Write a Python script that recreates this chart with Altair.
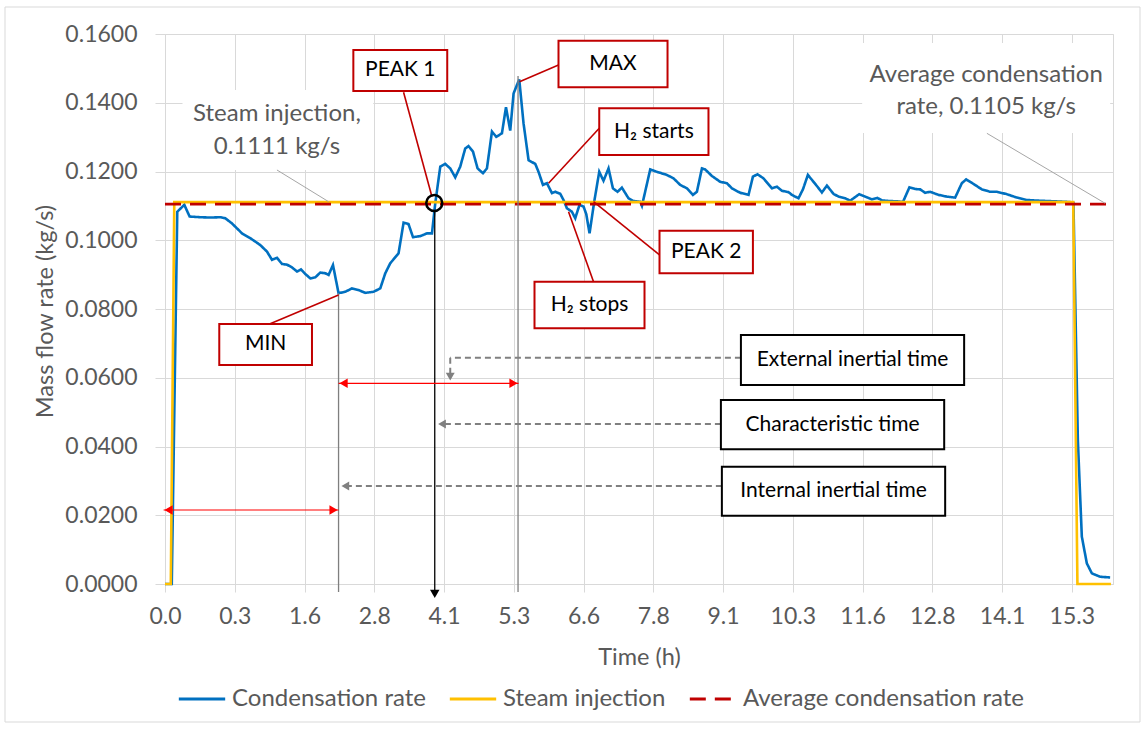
import altair as alt
import pandas as pd

FONT = "Lato"
GREY_TXT = "#595959"
GRID = "#D9D9D9"

# x positions are in category-axis units (one unit per labelled gridline)
x_labels = ["0.0", "0.3", "1.6", "2.8", "4.1", "5.3", "6.6", "7.8", "9.1",
            "10.3", "11.6", "12.8", "14.1", "15.3"]
y_ticks = [0.0, 0.02, 0.04, 0.06, 0.08, 0.10, 0.12, 0.14, 0.16]

cond_x = [0.0, 0.097, 0.176, 0.277, 0.353, 0.506, 0.649, 0.793, 0.864, 0.960,
          1.104, 1.223, 1.366, 1.462, 1.534, 1.605, 1.677, 1.749, 1.820, 1.892,
          1.949, 2.011, 2.083, 2.154, 2.226, 2.298, 2.345, 2.408, 2.488, 2.584,
          2.680, 2.775, 2.871, 2.990, 3.086, 3.158, 3.229, 3.348, 3.420, 3.491,
          3.555, 3.659, 3.755, 3.827, 3.874, 3.946, 4.017, 4.089, 4.161, 4.232,
          4.304, 4.351, 4.415, 4.481, 4.558, 4.615, 4.687, 4.749, 4.830, 4.888,
          4.949, 4.997, 5.078, 5.140, 5.212, 5.308, 5.355, 5.418, 5.475, 5.547,
          5.594, 5.666, 5.713, 5.762, 5.833, 5.881, 5.942, 6.000, 6.039, 6.086,
          6.153, 6.225, 6.286, 6.358, 6.421, 6.487, 6.550, 6.645, 6.716, 6.812,
          6.837, 6.956, 7.052, 7.195, 7.290, 7.386, 7.482, 7.568, 7.625, 7.697,
          7.744, 7.840, 7.959, 8.055, 8.127, 8.246, 8.365, 8.428, 8.494, 8.580,
          8.700, 8.772, 8.843, 8.938, 8.987, 9.081, 9.145, 9.216, 9.321, 9.417,
          9.489, 9.583, 9.655, 9.751, 9.823, 9.951, 10.037, 10.133, 10.214, 10.277,
          10.396, 10.501, 10.578, 10.672, 10.754, 10.826, 10.897, 10.969, 11.088, 11.208,
          11.327, 11.423, 11.485, 11.589, 11.710, 11.829, 11.925, 12.068, 12.212, 12.355,
          12.546, 12.785, 12.976, 13.023, 13.086, 13.143, 13.215, 13.287, 13.406, 13.549]
cond_y = [0.0, 0.0, 0.1083, 0.1103, 0.1069, 0.1067, 0.1066, 0.1067, 0.1064, 0.1049,
          0.1020, 0.1006, 0.0986, 0.0967, 0.0943, 0.0949, 0.0931, 0.0929, 0.0921, 0.0909,
          0.0915, 0.0902, 0.0889, 0.0892, 0.0906, 0.0904, 0.0899, 0.0928, 0.0846, 0.0850,
          0.0860, 0.0855, 0.0847, 0.0850, 0.0860, 0.0904, 0.0933, 0.0962, 0.1051, 0.1047,
          0.1009, 0.1012, 0.1020, 0.1020, 0.1107, 0.1214, 0.1222, 0.1209, 0.1183, 0.1214,
          0.1267, 0.1274, 0.1258, 0.1209, 0.1195, 0.1209, 0.1316, 0.1301, 0.1311, 0.1387,
          0.1319, 0.1427, 0.1468, 0.1340, 0.1233, 0.1222, 0.1199, 0.1161, 0.1166, 0.1137,
          0.1141, 0.1135, 0.1117, 0.1093, 0.1083, 0.1064, 0.1103, 0.1098, 0.1076, 0.1020,
          0.1112, 0.1199, 0.1173, 0.1209, 0.1151, 0.1141, 0.1153, 0.1122, 0.1114, 0.1112,
          0.1100, 0.1206, 0.1199, 0.1190, 0.1180, 0.1161, 0.1151, 0.1132, 0.1141, 0.1209,
          0.1206, 0.1187, 0.1170, 0.1166, 0.1151, 0.1138, 0.1132, 0.1185, 0.1192, 0.1180,
          0.1151, 0.1156, 0.1144, 0.1140, 0.1132, 0.1122, 0.1148, 0.1190, 0.1164, 0.1139,
          0.1159, 0.1135, 0.1127, 0.1122, 0.1115, 0.1134, 0.1127, 0.1119, 0.1123, 0.1116,
          0.1114, 0.1113, 0.1111, 0.1154, 0.1149, 0.1148, 0.1138, 0.1141, 0.1132, 0.1127,
          0.1124, 0.1166, 0.1177, 0.1164, 0.1148, 0.1141, 0.1141, 0.1134, 0.1124, 0.1117,
          0.1115, 0.1113, 0.1111, 0.1109, 0.0420, 0.0138, 0.0060, 0.0031, 0.0021, 0.0019]

steam_x = [0.0, 0.083, 0.133, 13.02, 13.08, 13.56]
steam_y = [0.0, 0.0, 0.1111, 0.1111, 0.0, 0.0]

avg_x = [0.0, 13.49]
avg_y = [0.1105, 0.1105]

series = ["Condensation rate", "Steam injection", "Average condensation rate"]
series_colors = ["#0070C0", "#FFC000", "#C00000"]
series_dash = [[1, 0], [1, 0], [16, 9]]

# ---------------- annotations (data coordinates) ----------------
red_boxes = pd.DataFrame({
    "label": ["PEAK 1", "MAX", "H\u2082 starts", "PEAK 2", "H\u2082 stops", "MIN"],
    "x": [2.700, 5.641, 6.225, 7.089, 5.297, 0.778],
    "x2": [4.046, 7.204, 7.791, 8.428, 6.874, 2.107],
    "y": [0.15535, 0.15805, 0.13839, 0.10278, 0.08794, 0.07564],
    "y2": [0.14342, 0.14449, 0.12480, 0.09039, 0.07438, 0.06371],
})
red_leaders = pd.DataFrame({
    "x": [3.420, 5.641, 6.225, 7.089, 6.143, 1.499],
    "y": [0.14304, 0.15098, 0.13257, 0.09571, 0.08794, 0.07564],
    "x2": [3.827, 5.082, 5.498, 6.143, 5.785, 2.488],
    "y2": [0.11267, 0.14613, 0.11657, 0.11121, 0.10831, 0.08407],
})
black_boxes = pd.DataFrame({
    "label": ["External inertial time", "Characteristic time", "Internal inertial time"],
    "x": [8.256, 7.969, 7.983],
    "x2": [11.456, 11.170, 11.184],
    "y": [0.07244, 0.05353, 0.03412],
    "y2": [0.05789, 0.03919, 0.01987],
})
grey_boxes = pd.DataFrame({
    "x": [0.251, 9.994], "x2": [2.985, 13.549],
    "y": [0.14371, 0.15738], "y2": [0.12044, 0.13120],
})
grey_text = pd.DataFrame({
    "label": ["Steam injection,", "0.1111 kg/s", "Average condensation", "rate, 0.1105 kg/s"],
    "x": [1.605, 1.605, 11.772, 11.772],
    "y": [0.13673, 0.12713, 0.14807, 0.13876],
})
grey_leaders = pd.DataFrame({
    "x": [1.605, 11.782], "y": [0.12044, 0.13111],
    "x2": [2.345, 13.477], "y2": [0.11122, 0.11075],
})
vlines = pd.DataFrame({
    "x": [2.488, 5.061], "y": [0.0846, 0.1478], "y2": [-0.0023, -0.0023],
})
peak1_line = pd.DataFrame({"x": [3.867], "y": [0.1088], "y2": [-0.0030]})
peak1_head = pd.DataFrame({"x": [3.867], "y": [-0.0029]})
circle_df = pd.DataFrame({"x": [3.860], "y": [0.11084]})

red_arrows = pd.DataFrame({
    "x": [-0.02, 2.488], "x2": [2.488, 5.068], "y": [0.02153, 0.05839],
})
red_heads = pd.DataFrame({
    "x": [0.05, 2.416, 2.560, 4.996],
    "y": [0.02153, 0.02153, 0.05839, 0.05839],
    "shape": ["triangle-left", "triangle-right", "triangle-left", "triangle-right"],
})
grey_dash = pd.DataFrame({
    "x": [8.256, 4.089, 7.969, 7.983],
    "x2": [4.089, 4.089, 3.960, 2.570],
    "y": [0.06583, 0.06583, 0.04655, 0.02851],
    "y2": [0.06583, 0.06100, 0.04655, 0.02851],
})
grey_heads = pd.DataFrame({
    "x": [4.089, 3.971, 2.585],
    "y": [0.06031, 0.04655, 0.02851],
    "shape": ["triangle-down", "triangle-left", "triangle-left"],
})

# ---------------- scales & axes ----------------
xs = alt.Scale(domain=[0, 13.59], nice=False, zero=False)
ys = alt.Scale(domain=[0, 0.16], nice=False, zero=False)
label_js = "[" + ",".join("'" + s + "'" for s in x_labels) + "]"

x_axis = alt.Axis(values=list(range(len(x_labels))),
                  labelExpr=label_js + "[round(datum.value)]",
                  title="Time (h)", grid=True, gridColor=GRID, labelFlush=False,
                  tickSize=8, tickColor=GRID, domainColor=GRID,
                  labelFont=FONT, labelFontSize=23, labelColor=GREY_TXT, labelPadding=13,
                  titleFont=FONT, titleFontSize=23.5, titleFontWeight="normal",
                  titleColor=GREY_TXT, titleX=474, titleY=73, titleBaseline="middle")
y_axis = alt.Axis(values=y_ticks, format=".4f", title="Mass flow rate (kg/s)",
                  grid=True, gridColor=GRID, tickSize=10, tickColor=GRID, domain=False,
                  labelFont=FONT, labelFontSize=23, labelColor=GREY_TXT, labelPadding=18,
                  titleFont=FONT, titleFontSize=23.5, titleFontWeight="normal",
                  titleColor=GREY_TXT, titleX=-120, titleY=277, titleAngle=270,
                  titleAlign="center", titleBaseline="middle")


def X(f="x"):
    return alt.X(f, type="quantitative", scale=xs, axis=x_axis)


def Y(f="y"):
    return alt.Y(f, type="quantitative", scale=ys, axis=y_axis)


def make_legend():
    return alt.Legend(title=None, orient="none", direction="horizontal",
                      legendX=12, legendY=640, symbolType="stroke",
                      symbolSize=2150, symbolStrokeWidth=3,
                      labelFont=FONT, labelFontSize=24, labelLimit=0,
                      labelColor=GREY_TXT, labelOffset=5, columnPadding=17)


color_enc = alt.Color("series:N", scale=alt.Scale(domain=series, range=series_colors),
                      legend=make_legend())
dash_enc = alt.StrokeDash("series:N", scale=alt.Scale(domain=series, range=series_dash),
                          legend=make_legend())

cond_df = pd.DataFrame({"x": cond_x, "y": cond_y, "series": series[0]})
cond_df["i"] = range(len(cond_df))
steam_df = pd.DataFrame({"x": steam_x, "y": steam_y, "series": series[1]})
steam_df["i"] = range(len(steam_df))
avg_df = pd.DataFrame({"x": avg_x, "y": avg_y, "series": series[2]})
avg_df["i"] = range(len(avg_df))


def series_layer(df):
    return alt.Chart(df).mark_line(strokeWidth=2.6).encode(
        x=X(), y=Y(), color=color_enc, strokeDash=dash_enc, order="i:Q")


layers = []
# white label backgrounds for the grey callouts
layers.append(alt.Chart(grey_boxes).mark_rect(fill="white").encode(
    x=X(), x2="x2", y=Y(), y2="y2"))
layers += [series_layer(cond_df), series_layer(steam_df), series_layer(avg_df)]

layers.append(alt.Chart(grey_leaders).mark_rule(color="#A6A6A6", strokeWidth=1).encode(
    x=X(), y=Y(), x2="x2", y2="y2"))
layers.append(alt.Chart(grey_text).mark_text(font=FONT, fontSize=24, color=GREY_TXT,
                                              align="center", baseline="middle").encode(
    x=X(), y=Y(), text="label"))

layers.append(alt.Chart(vlines).mark_rule(color="#7F7F7F", strokeWidth=1.3).encode(
    x=X(), y=Y(), y2="y2"))
layers.append(alt.Chart(peak1_line).mark_rule(color="black", strokeWidth=1.3).encode(
    x=X(), y=Y(), y2="y2"))
layers.append(alt.Chart(peak1_head).mark_point(shape="triangle-down", filled=True,
                                                color="black", size=90, opacity=1).encode(
    x=X(), y=Y()))

layers.append(alt.Chart(red_arrows).mark_rule(color="#FF0000", strokeWidth=1.2).encode(
    x=X(), x2="x2", y=Y()))
layers.append(alt.Chart(red_heads).mark_point(filled=True, color="#FF0000", size=90,
                                               opacity=1).encode(
    x=X(), y=Y(), shape=alt.Shape("shape:N", scale=None)))

layers.append(alt.Chart(grey_dash).mark_rule(color="#808080", strokeWidth=2,
                                              strokeDash=[6, 4]).encode(
    x=X(), y=Y(), x2="x2", y2="y2"))
layers.append(alt.Chart(grey_heads).mark_point(filled=True, color="#808080", size=80,
                                                opacity=1).encode(
    x=X(), y=Y(), shape=alt.Shape("shape:N", scale=None)))

layers.append(alt.Chart(red_leaders).mark_rule(color="#C00000", strokeWidth=1.6).encode(
    x=X(), y=Y(), x2="x2", y2="y2"))
layers.append(alt.Chart(red_boxes).mark_rect(fill="white", stroke="#C00000",
                                              strokeWidth=2).encode(
    x=X(), x2="x2", y=Y(), y2="y2"))
layers.append(alt.Chart(red_boxes).transform_calculate(
    cx="(datum.x + datum.x2) / 2", cy="(datum.y + datum.y2) / 2").mark_text(
    font=FONT, fontSize=21, color="black", align="center", baseline="middle").encode(
    x=X("cx"), y=Y("cy"), text="label:N"))

layers.append(alt.Chart(black_boxes).mark_rect(fill="white", stroke="black",
                                                strokeWidth=2).encode(
    x=X(), x2="x2", y=Y(), y2="y2"))
layers.append(alt.Chart(black_boxes).transform_calculate(
    cx="(datum.x + datum.x2) / 2", cy="(datum.y + datum.y2) / 2").mark_text(
    font=FONT, fontSize=21, color="black", align="center", baseline="middle").encode(
    x=X("cx"), y=Y("cy"), text="label:N"))

layers.append(alt.Chart(circle_df).mark_point(shape="circle", filled=False, color="black",
                                               strokeWidth=2.5, size=256, opacity=1).encode(
    x=X(), y=Y()))

# chart-area border
layers.append(alt.Chart(circle_df).mark_rect(fill=None, stroke=GRID, strokeWidth=1).encode(
    x=alt.value(-160), x2=alt.value(975), y=alt.value(-27), y2=alt.value(688)))

chart = alt.layer(*layers).properties(
    width=948, height=550,
    autosize=alt.AutoSizeParams(type="none"),
    padding={"left": 165, "top": 34, "right": 32, "bottom": 145},
    background="white",
).configure_view(stroke=GRID, strokeWidth=1)

chart.save("out.html", embed_options={"renderer": "svg", "actions": False})
